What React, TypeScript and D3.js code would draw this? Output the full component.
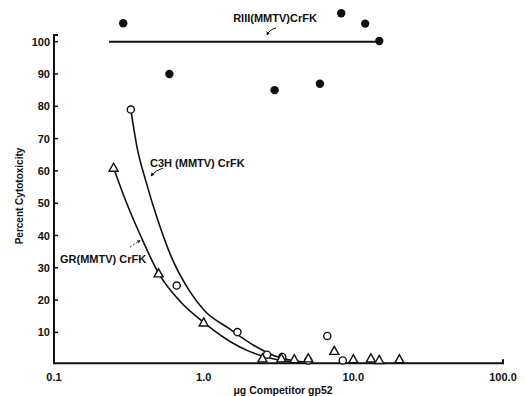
import React from 'react'
import * as d3 from 'd3'

// RIII(MMTV)CrFK - filled circles
const riiiX = [0.29, 0.59, 2.98, 5.98, 8.3, 12.0, 14.9]
const riiiY = [105.7, 90, 85, 87, 108.8, 105.6, 100.2]
const riiiLine = [0.233, 14.9]

// C3H (MMTV) CrFK - open circles
const c3hX = [0.326, 0.66, 1.68, 2.65, 3.35, 5.0, 6.7, 8.5]
const c3hY = [79, 24.5, 10.1, 3.1, 2.4, 1.3, 8.9, 1.3]
const c3hCurveX = [0.326, 0.36, 0.41, 0.5, 0.6, 0.8, 1.0, 1.5, 2.2, 3.0, 4.0, 5.0]
const c3hCurveY = [79, 67, 57, 44, 34, 23, 17, 11, 5.8, 2.7, 1.2, 0.8]

// GR(MMTV) CrFK - open triangles
const grX = [0.25, 0.5, 1.0, 2.47, 3.3, 4.03, 5.0, 7.46, 10.0, 13.1, 14.9, 20.3]
const grY = [61, 28.3, 13.1, 2, 2, 1.7, 2, 4.3, 1.7, 2, 1.5, 1.7]
const grCurveX = [0.25, 0.3, 0.37, 0.5, 0.7, 1.0, 1.5, 2.0, 2.5, 3.3, 4.5]
const grCurveY = [61, 51, 41, 28.3, 19.5, 13.1, 7.2, 4.2, 2.6, 1.3, 0.8]

const xTicks = [0.1, 1, 10, 100]
const xTickLabels = ['0.1', '1.0', '10.0', '100.0']
const yTicks = [10, 20, 30, 40, 50, 60, 70, 80, 90, 100]

const font = '"Liberation Sans", Arial, sans-serif'

export default function App() {
  const x = d3.scaleLog().domain([0.1, 100]).range([54, 503])
  const y = d3.scaleLinear().domain([0, 100]).range([364.7, 41.7])

  const line = d3
    .line<[number, number]>()
    .x(d => x(d[0]))
    .y(d => y(d[1]))
    .curve(d3.curveMonotoneX)

  const c3hPath = line(c3hCurveX.map((v, i) => [v, c3hCurveY[i]]))
  const grPath = line(grCurveX.map((v, i) => [v, grCurveY[i]]))

  const tri = (cx: number, cy: number, s = 4.5) =>
    `M${cx},${cy - s}L${cx + s},${cy + s * 0.8}L${cx - s},${cy + s * 0.8}Z`

  const ink = '#111'

  return (
    <svg width={525} height={396} style={{ position: 'absolute', left: 0, top: 0, background: '#fff' }}>
      <rect width={525} height={396} fill="#fff" />
      <defs>
        <marker id="ah" viewBox="0 0 6 6" refX="5" refY="3" markerWidth="4" markerHeight="4" orient="auto">
          <path d="M0,0L6,3L0,6Z" fill={ink} />
        </marker>
      </defs>

      {/* axes */}
      <path d={`M${x(0.1) + 4},35H${x(0.1)}V${y(0) - 1.5}H${x(100)}V${y(0) - 5.5}`} fill="none" stroke={ink} strokeWidth={2} />
      {yTicks.map(t => (
        <g key={t}>
          <line x1={x(0.1)} x2={x(0.1) + 4} y1={y(t)} y2={y(t)} stroke={ink} strokeWidth={1.5} />
          <text x={x(0.1) - 4} y={y(t) + 4} textAnchor="end" fontFamily={font} fontWeight="bold" fontSize={11} fill={ink}>
            {t}
          </text>
        </g>
      ))}
      {xTicks.map((t, i) => (
        <text key={t} x={x(t)} y={381} textAnchor="middle" fontFamily={font} fontWeight="bold" fontSize={11} fill={ink}>
          {xTickLabels[i]}
        </text>
      ))}
      <text x={283} y={394} textAnchor="middle" fontFamily={font} fontWeight="bold" fontSize={10.5} fill={ink}>
        μg Competitor gp52
      </text>
      <text transform="translate(23,196) rotate(-90)" textAnchor="middle" fontFamily={font} fontWeight="bold" fontSize={10} fill={ink}>
        Percent Cytotoxicity
      </text>

      {/* RIII line + points */}
      <line x1={x(riiiLine[0])} x2={x(riiiLine[1])} y1={y(100)} y2={y(100)} stroke={ink} strokeWidth={2} />
      {riiiX.map((v, i) => (
        <circle key={i} cx={x(v)} cy={y(riiiY[i])} r={4.2} fill={ink} />
      ))}

      {/* curves */}
      <path d={c3hPath || ''} fill="none" stroke={ink} strokeWidth={1.6} />
      <path d={grPath || ''} fill="none" stroke={ink} strokeWidth={1.6} />

      {c3hX.map((v, i) => (
        <circle key={i} cx={x(v)} cy={y(c3hY[i])} r={3.6} fill="#fff" stroke={ink} strokeWidth={1.4} />
      ))}
      {grX.map((v, i) => (
        <path key={i} d={tri(x(v), y(grY[i]))} fill="#fff" stroke={ink} strokeWidth={1.4} />
      ))}

      {/* labels */}
      <text x={275} y={22} textAnchor="middle" fontFamily={font} fontWeight="bold" fontSize={11} fill={ink}>
        RIII(MMTV)CrFK
      </text>
      <path d="M276,28 Q270,29 267,35" fill="none" stroke={ink} strokeWidth={1} markerEnd="url(#ah)" />
      <text x={150} y={167} fontFamily={font} fontWeight="bold" fontSize={11} fill={ink}>
        C3H (MMTV) CrFK
      </text>
      <path d="M163,168 Q156,170 151,176" fill="none" stroke={ink} strokeWidth={1} markerEnd="url(#ah)" />
      <text x={60} y={263} fontFamily={font} fontWeight="bold" fontSize={11} fill={ink}>
        GR(MMTV) CrFK
      </text>
      <path d="M130,247 L140,240.5" fill="none" stroke={ink} strokeWidth={0.8} strokeDasharray="2,1.5" markerEnd="url(#ah)" />
    </svg>
  )
}
